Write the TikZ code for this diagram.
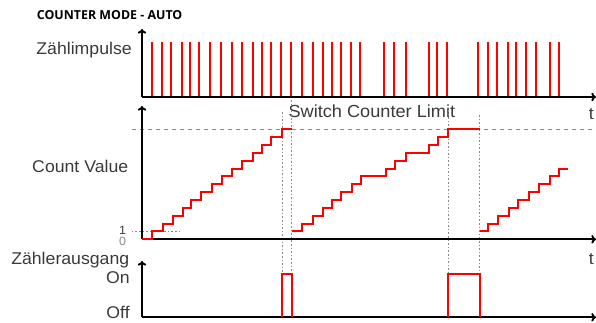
\documentclass[tikz,border=0pt]{standalone}
\usepackage{fontspec}
\setmainfont{Liberation Sans}
\newfontfamily\labfont[FakeStretch=1.04]{Liberation Sans}
\newfontfamily\titlefont{Open Sans}
\usetikzlibrary{arrows.meta}
\definecolor{txt}{HTML}{3A3A3A}
\definecolor{sig}{RGB}{255,0,0}
\definecolor{guidegray}{HTML}{8A8A8A}
\begin{document}
\begin{tikzpicture}[x=0.75pt,y=-0.75pt,
  axis/.style={line width=1.4pt,-{To[length=3.5pt,width=6.5pt]}},
  sigline/.style={sig,line width=1.5pt},
  pulse/.style={sig,line width=1.5pt},
  guide/.style={guidegray,dash pattern=on 1.2pt off 1.5pt,line width=0.6pt},
  limitline/.style={guidegray,dash pattern=on 3.5pt off 2.5pt,line width=0.6pt},
  lab/.style={text=txt,font=\labfont\fontsize{12.75}{14}\selectfont,inner sep=0pt},
  digit/.style={font=\labfont\fontsize{9}{10}\selectfont,inner sep=0pt}]
\useasboundingbox (0,0) rectangle (596,323);

% title
\node[anchor=base west,inner sep=0pt,font=\titlefont\bfseries\fontsize{9.3}{11}\selectfont] (title) at (36.7,20) {COUNTER MODE - AUTO};

% labels
\node[lab,anchor=base east] (zl) at (132,54.3) {Zählimpulse};
\node[lab,anchor=base east] (cv) at (128.5,172.7) {Count Value};
\node[lab,anchor=base east] (za) at (129.5,265) {Zählerausgang};
\node[lab,anchor=base east] (on) at (130,283.3) {On};
\node[lab,anchor=base east] (off) at (130,318.3) {Off};
\node[lab,anchor=base west,font=\labfont\fontsize{13.1}{15}\selectfont] (scl) at (288.3,118) {Switch Counter Limit};
\node[lab,anchor=base] (t1) at (591.3,120) {t};
\node[lab,anchor=base] (t2) at (591.3,264.5) {t};
\node[digit,text=txt,anchor=base] (n1) at (122.5,235) {1};
\node[digit,text=guidegray,anchor=base] (n0) at (122.5,246) {0};

% axis coordinates
\coordinate (o1) at (142,97);   \coordinate (y1) at (142,29);  \coordinate (x1) at (596,97);
\coordinate (o2) at (142,239.3);\coordinate (y2) at (142,106); \coordinate (x2) at (596,239.3);
\coordinate (o3) at (142,317.3);\coordinate (y3) at (142,261); \coordinate (x3) at (596,317.3);

% guide lines
\coordinate (lim0) at (131.7,129.3); \coordinate (lim1) at (596,129.3);
\draw[limitline] (lim0) -- (lim1);
\coordinate (one0) at (131.7,231.4); \coordinate (one1) at (181.7,231.4);
\draw[guide] (one0) -- (one1);
\foreach \x/\t in {282/112,291.5/100,448/110,479.5/115}
  \draw[guide] (\x,\t) -- (\x,274);

% axes
\draw[axis] (o1) -- (y1);
\draw[axis] (o1) -- (x1);
\draw[axis] (o2) -- (y2);
\draw[axis] (o2) -- (x2);
\draw[axis] (o3) -- (y3);
\draw[axis] (o3) -- (x3);

% pulses
\foreach \x in {151.7,162.3,171,181.7,190.3,199.3,210,221,232,242.3,253,262.3,271,281,291,
  302,312.7,322.7,331.7,340.7,351.3,360,384.3,394,406.3,428.7,437.3,447.3,
  477.7,488,497.3,508,516,526,536,550,559.3}
  \draw[pulse] (\x,96.5) -- (\x,42);

% count value staircase
\draw[sigline] (o2) \foreach \x/\k in {151.7/1,163/2,172.5/3,182.5/4,191/5,201/6,211.5/7,222/8,232.2/9,242.3/10,252.7/11,262.3/12,270.8/13,281.8/14}
  { -| (\x,{239.3-7.86*\k}) } -- (291.5,{239.3-7.86*14});
\draw[sigline] (291.5,{239.3-7.86}) \foreach \x/\k in {302/2,312.7/3,322.5/4,331.7/5,341/6,351.5/7,361.3/8,385.5/9,394.8/10,406/11,428.5/12,437.6/13,447.6/14}
  { -| (\x,{239.3-7.86*\k}) } -- (479.5,{239.3-7.86*14});
\draw[sigline] (479.5,{239.3-7.86}) \foreach \x/\k in {488/2,498/3,508.8/4,518/5,528.5/6,538.5/7,549.5/8,558.7/9}
  { -| (\x,{239.3-7.86*\k}) } -- (567.7,{239.3-7.86*9});

% counter output
\draw[sigline] (281.5,317.3) |- (291.5,274) -- (291.5,317.3);
\draw[sigline] (448,317.3) |- (480,274) -- (480,317.3);
\end{tikzpicture}
\end{document}
